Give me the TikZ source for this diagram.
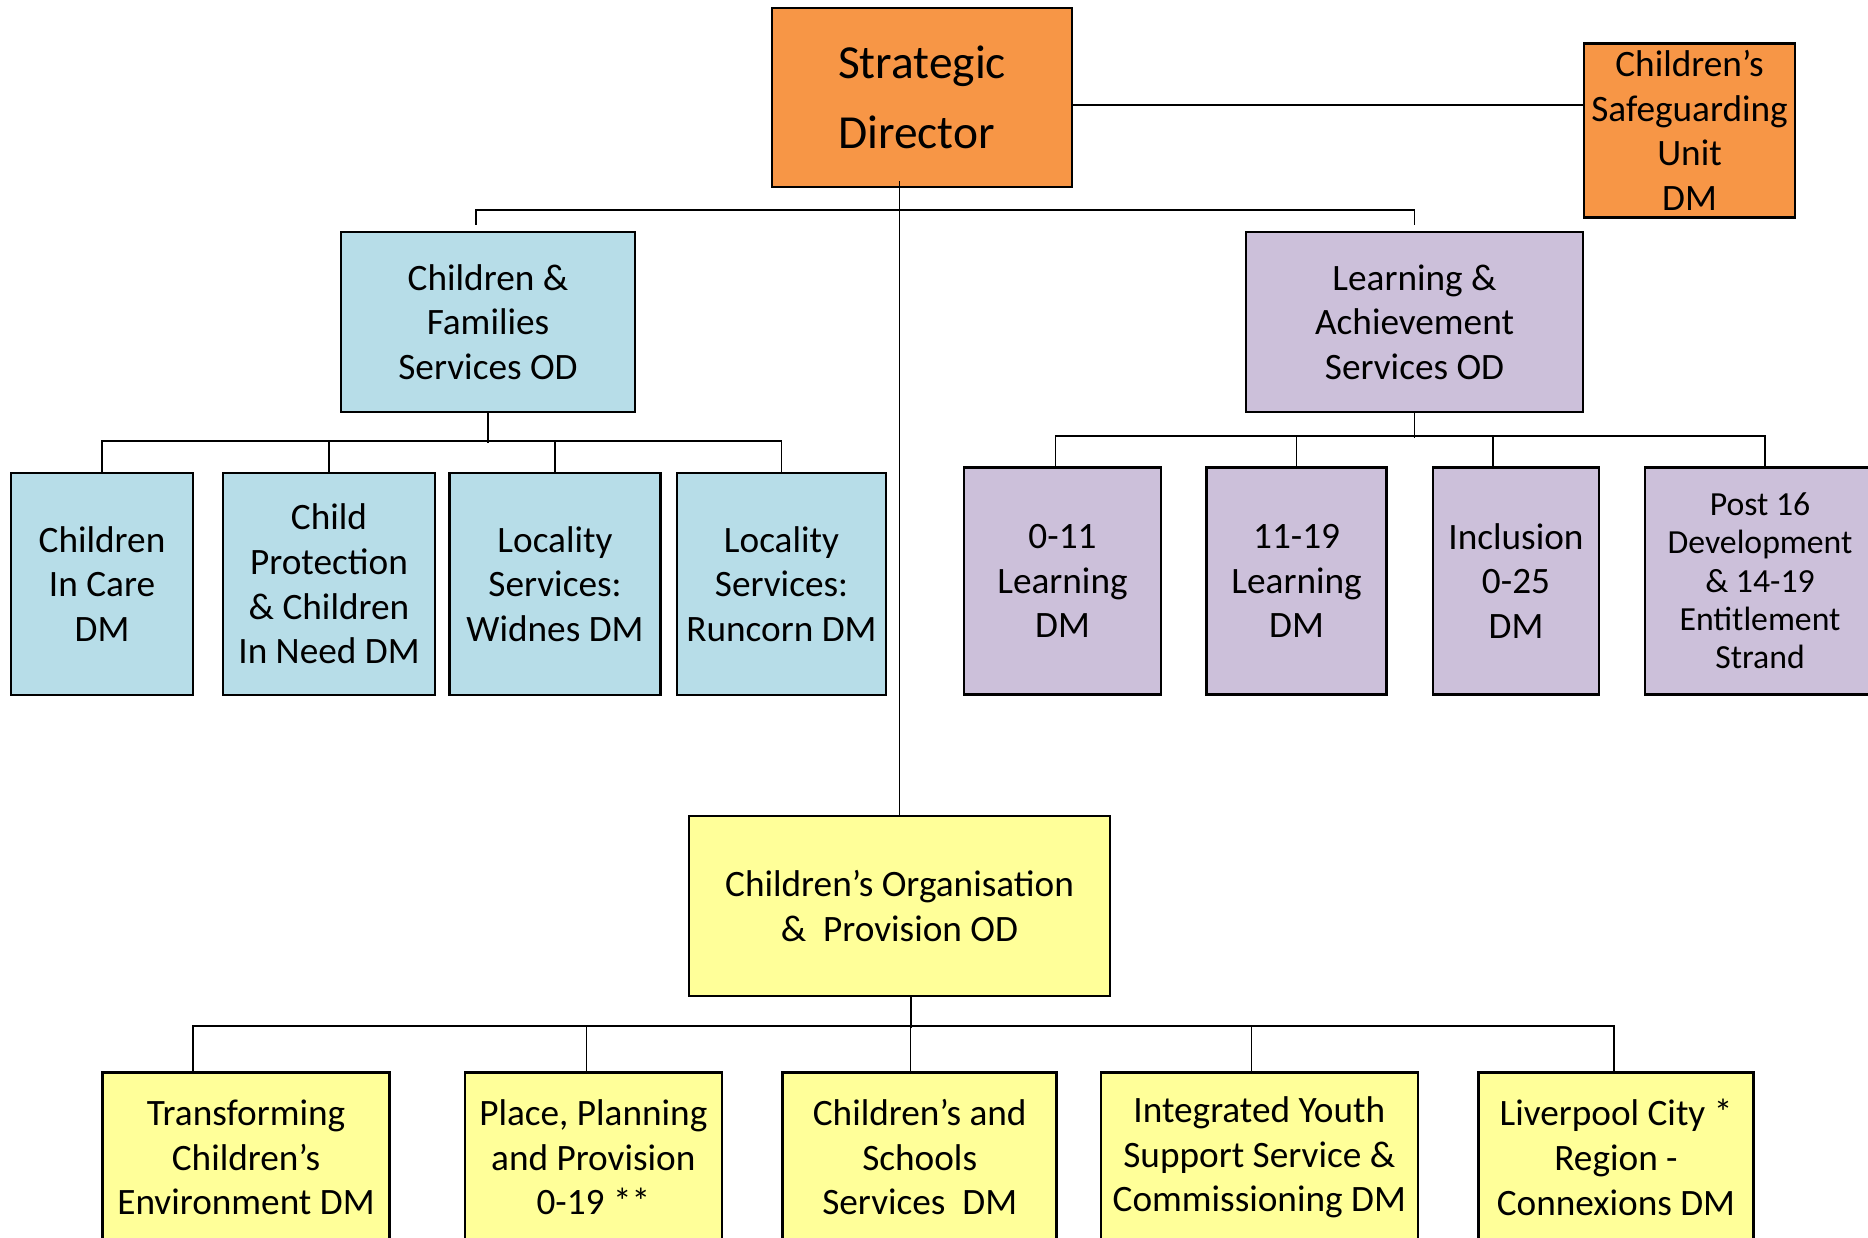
\documentclass[tikz,border=0pt]{standalone}
\usepackage{fontspec}
\setmainfont{Carlito}
\usepackage{xcolor}
\usepackage{tikz}
\definecolor{headorange}{HTML}{F79646}
\definecolor{famblue}{HTML}{B7DDE8}
\definecolor{learnpurple}{HTML}{CCC0DA}
\definecolor{provyellow}{HTML}{FFFF99}
\tikzstyle{unit} = [rectangle, draw=black, line width=0.7pt, align=center, inner sep=2pt]
\tikzstyle{head} = [unit, fill=headorange]
\tikzstyle{family} = [unit, fill=famblue]
\tikzstyle{learning} = [unit, fill=learnpurple]
\tikzstyle{provision} = [unit, fill=provyellow]
\tikzstyle{link} = [line width=0.5pt]
\tikzstyle{thinlink} = [line width=0.35pt]

\begin{document}
\begin{tikzpicture}[font=\fontsize{10.6}{12.7}\selectfont]
   \useasboundingbox (0,0) rectangle (18.68,-12.37);
   % top level
   \node (sd) [head, align=left, minimum width=3cm, minimum height=1.79cm, font=\fontsize{13.5}{20}\selectfont] at (9.22,-0.975) {Strategic\\Director};
   \node (csu) [head, minimum width=2.11cm, minimum height=1.73cm] at (16.895,-1.305) {Children’s\\Safeguarding\\Unit\\DM};
   \node (cf) [family, minimum width=2.94cm, minimum height=1.8cm] at (4.88,-3.22) {Children \&\\Families\\Services OD};
   \node (la) [learning, minimum width=3.37cm, minimum height=1.8cm] at (14.145,-3.22) {Learning \&\\Achievement\\Services OD};
   \node (cop) [provision, minimum width=4.21cm, minimum height=1.8cm] at (8.995,-9.06) {Children’s Organisation\\\&\ \ Provision OD};
   % children & families
   \node (cic) [family, minimum width=1.82cm, minimum height=2.22cm] at (1.02,-5.84) {Children\\In Care\\DM};
   \node (cp) [family, minimum width=2.12cm, minimum height=2.22cm] at (3.29,-5.84) {Child\\Protection\\\& Children\\In Need DM};
   \node (lw) [family, minimum width=2.11cm, minimum height=2.22cm] at (5.55,-5.84) {Locality\\Services:\\Widnes DM};
   \node (lr) [family, minimum width=2.09cm, minimum height=2.22cm] at (7.815,-5.84) {Locality\\Services:\\Runcorn DM};
   % learning & achievement
   \node (lone) [learning, minimum width=1.97cm, minimum height=2.27cm] at (10.625,-5.81) {0-11\\Learning\\DM};
   \node (ltwo) [learning, minimum width=1.8cm, minimum height=2.27cm] at (12.966,-5.81) {11-19\\Learning\\DM};
   \node (inc) [learning, minimum width=1.66cm, minimum height=2.27cm] at (15.16,-5.81) {Inclusion\\0-25\\DM};
   \node (post) [learning, minimum width=2.3cm, minimum height=2.27cm, font=\fontsize{9.6}{10.9}\selectfont] at (17.6,-5.81) {Post 16\\Development\\\& 14-19\\Entitlement\\Strand};
   % organisation & provision
   \node (tce) [provision, minimum width=2.87cm, minimum height=1.7cm] at (2.46,-11.573) {Transforming\\Children’s\\Environment DM};
   \node (ppp) [provision, minimum width=2.57cm, minimum height=1.7cm] at (5.933,-11.573) {Place, Planning\\and Provision\\0-19 **};
   \node (css) [provision, minimum width=2.74cm, minimum height=1.7cm] at (9.197,-11.573) {Children’s and\\Schools\\Services\ \ DM};
   \node (iys) [provision, minimum width=3.17cm, minimum height=1.7cm] at (12.593,-11.573) {Integrated Youth\\Support Service \&\\Commissioning DM};
   \node (lcr) [provision, minimum width=2.75cm, minimum height=1.7cm] at (16.16,-11.573) {Liverpool City *\\Region -\\Connexions DM};

   % connectors
   \draw [link] ([yshift=-0.075cm]sd.east) -- ([yshift=-0.075cm]sd.east -| csu.west);
   \draw [thinlink] (sd.south -| cop.north) ++(0,0.07) -- (cop.north);
   \draw [link] ([shift={(-0.12,0.06)}]cf.north) |- ([yshift=0.21cm]la.north) -- ([yshift=0.06cm]la.north);

   \draw [link] (cf.south) -- ++(0,-0.30);
   \draw [link] (cic.north) |- ([yshift=0.31cm]lr.north) -- (lr.north);
   \foreach \n in {cp,lw}
      \draw [link] (\n.north) -- ++(0,0.31);

   \draw [link] (la.south) -- ++(0,-0.25);
   \draw [link] ([xshift=-0.07cm]lone.north) |- ([shift={(0.05,0.305)}]post.north) -- ([xshift=0.05cm]post.north);
   \draw [link] (ltwo.north) -- ++(0,0.305);
   \draw [link] ([xshift=-0.23cm]inc.north) -- ++(0,0.305);

   \draw [thinlink] ([xshift=0.115cm]cop.south) -- ++(0,-0.31);
   \draw [link] ([xshift=-0.53cm]tce.north) |- ([shift={(-0.02,0.45)}]lcr.north) -- ([xshift=-0.02cm]lcr.north);
   \draw [thinlink] ([xshift=-0.07cm]ppp.north) -- ++(0,0.45);
   \draw [thinlink] ([xshift=-0.09cm]css.north) -- ++(0,0.45);
   \draw [thinlink] ([xshift=-0.08cm]iys.north) -- ++(0,0.45);
\end{tikzpicture}
\end{document}
